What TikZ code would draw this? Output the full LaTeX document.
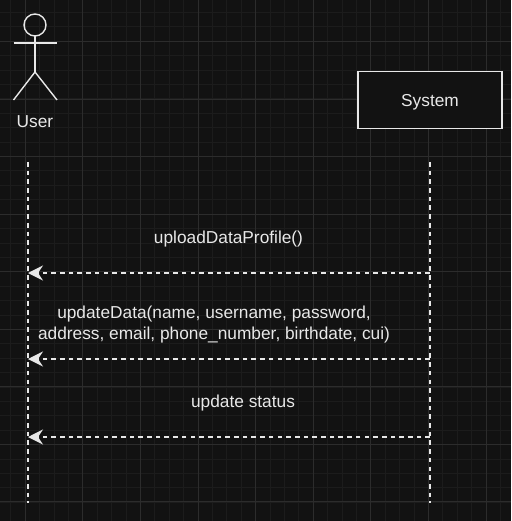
\documentclass[tikz,border=0pt]{standalone}
\usepackage{fontspec}
\setmainfont{Liberation Sans}
\usetikzlibrary{arrows.meta}
\definecolor{bgc}{HTML}{121212}
\definecolor{minorc}{HTML}{1C1C1C}
\definecolor{majorc}{HTML}{2C2C2C}
\definecolor{inkc}{HTML}{E8E8E8}
\tikzset{
  stroke/.style={draw=inkc,line width=1.4pt},
  life/.style={draw=inkc,line width=1.5pt,dash pattern=on 4.6pt off 4.1pt},
  msg/.style={life,-{Stealth[length=15pt,width=15pt,inset=5pt,fill=inkc]}},
  lbl/.style={text=inkc,font=\fontsize{17.3}{21}\selectfont,align=center,inner sep=0pt},
}
\begin{document}
\begin{tikzpicture}[x=1pt,y=-1pt]
\useasboundingbox (0,0) rectangle (511,521);
\fill[bgc] (0,0) rectangle (511,521);
\foreach \k in {0,...,35} {
  \draw[minorc,line width=1pt] ({-3.5+14.4*\k},0) -- ({-3.5+14.4*\k},521);
  \draw[minorc,line width=1pt] (0,{-1.8+14.4*\k}) -- (511,{-1.8+14.4*\k});
}
\foreach \k in {0,...,8} {
  \draw[majorc,line width=1pt] ({25.3+57.6*\k},0) -- ({25.3+57.6*\k},521);
  \draw[majorc,line width=1pt] (0,{41.6+57.5*\k}) -- (511,{41.6+57.5*\k});
}
% actor
\draw[stroke] (35,25) circle (11);
\draw[stroke] (35,36) -- (35,72);
\draw[stroke] (13.5,43) -- (57,43);
\draw[stroke] (13.5,100) -- (35,72) -- (57,100);
\node[lbl] (user) at (35,122) {User};
% system
\node[stroke,fill=bgc,minimum width=144pt,minimum height=57.5pt,inner sep=0pt,text=inkc,font=\fontsize{17.3}{21}\selectfont] (system) at (430,100) {\raisebox{-6.5pt}[0pt][0pt]{System}};
% lifelines
\coordinate (ut) at (28,162);
\coordinate (ub) at (28,502.5);
\coordinate (st) at (430,162);
\coordinate (sb) at (430,502.5);
\draw[life] (ut) -- (ub);
\draw[life] (st) -- (sb);
\coordinate (s1) at (430,273);
\coordinate (u1) at (28,273);
\coordinate (s2) at (430,359);
\coordinate (u2) at (28,359);
\coordinate (s3) at (430,437);
\coordinate (u3) at (28,437);
\draw[msg] (s1) -- (u1);
\draw[msg] (s2) -- (u2);
\draw[msg] (s3) -- (u3);
\node[lbl] (m1) at (228.5,239) {uploadDataProfile()};
\node[lbl] (m2) at (214,325) {updateData(name, username, password,\\address, email, phone\_number, birthdate, cui)};
\node[lbl] (m3) at (243,403) {update status};
\end{tikzpicture}
\end{document}
